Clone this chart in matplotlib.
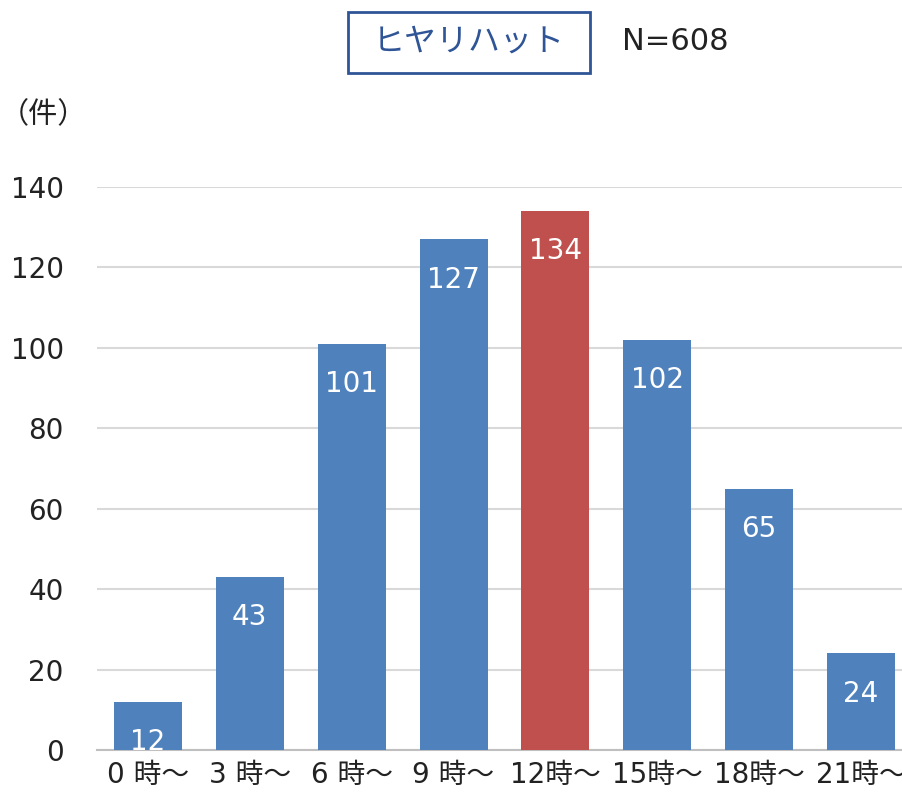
import matplotlib

matplotlib.use("Agg")

import matplotlib.pyplot as plt
from matplotlib.patches import Rectangle

plt.rcParams["font.family"] = ["DejaVu Sans", "Noto Sans CJK JP"]

HOURS = ["0 時～", "3 時～", "6 時～", "9 時～", "12時～", "15時～", "18時～", "21時～"]
COUNTS = [12, 43, 101, 127, 134, 102, 65, 24]
HIGHLIGHT = 4
BLUE = "#4F81BD"
RED = "#C0504D"
CJK = ["Noto Sans CJK JP", "DejaVu Sans"]


def main():
    fig = plt.figure(figsize=(9.03, 7.92), dpi=100)
    ax = fig.add_axes([97 / 903, 42 / 792, 815 / 903, 563 / 792])
    colors = [RED if i == HIGHLIGHT else BLUE for i in range(len(COUNTS))]
    x = range(len(COUNTS))
    bars = ax.bar(x, COUNTS, width=0.667, color=colors, zorder=3)
    for bar, value in zip(bars, COUNTS):
        ax.annotate(
            str(value),
            (bar.get_x() + bar.get_width() / 2, value),
            xytext=(0, -29),
            textcoords="offset points",
            ha="center",
            va="center",
            color="white",
            fontsize=20,
            zorder=4,
            annotation_clip=False,
            clip_on=True,
        )
    ax.set_xlim(-0.5, len(COUNTS) - 0.5)
    ax.set_ylim(0, 140)
    ax.set_yticks(range(0, 141, 20))
    ax.set_xticks(list(x))
    ax.set_xticklabels(HOURS)
    ax.tick_params(axis="both", length=0, labelsize=20, colors="#222222")
    ax.tick_params(axis="y", pad=24)
    ax.tick_params(axis="x", pad=8)
    ax.grid(axis="y", color="#D9D9D9", linewidth=1.5, zorder=0)
    for side in ("top", "right", "left"):
        ax.spines[side].set_visible(False)
    ax.spines["bottom"].set_color("#BFBFBF")
    ax.spines["bottom"].set_linewidth(1.5)

    fig.text(0, 1 - 115 / 792, "（件）", fontsize=21, va="center", ha="left",
             color="#222222", family=CJK)
    fig.patches.append(
        Rectangle((348 / 903, 1 - 73 / 792), 242 / 903, 61 / 792, transform=fig.transFigure,
                  facecolor="white", edgecolor="#2F5597", linewidth=2)
    )
    fig.text(469 / 903, 1 - 42 / 792, "ヒヤリハット", fontsize=23, color="#2F5597",
             ha="center", va="center", family=CJK)
    fig.text(622 / 903, 1 - 42 / 792, "N=608", fontsize=22, color="#222222", ha="left", va="center")
    fig.savefig("out.png", dpi=100)
    plt.close(fig)


if __name__ == "__main__":
    main()
